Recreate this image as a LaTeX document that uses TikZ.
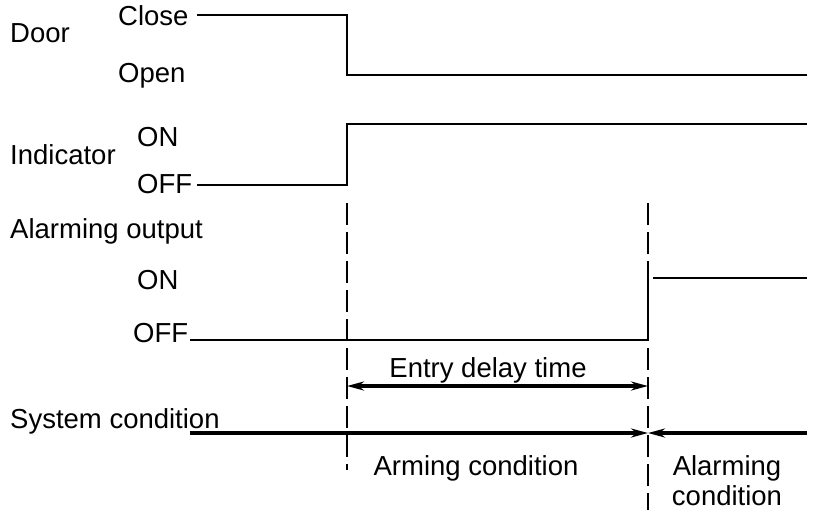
\documentclass[tikz,border=0pt]{standalone}
\usepackage{fontspec}
\setmainfont{Liberation Sans}
\usetikzlibrary{arrows.meta}
\begin{document}
\begin{tikzpicture}[>={Stealth[length=17pt,width=9pt]},x=1pt,y=-1pt,
	sig/.style={line width=2.6pt},
	span/.style={line width=3.2pt},
	tick/.style={line width=1.8pt,dash pattern=on 22pt off 7pt},
	lbl/.style={anchor=base west,inner sep=0pt,font=\fontsize{27.5}{30}\selectfont}]
	\useasboundingbox (0,0) rectangle (832,512);
	% labels on the left
	\node[lbl] (door) at (10,42) {Door};
	\node[lbl] (close) at (118,25) {Close};
	\node[lbl] (open) at (118,82) {Open};
	\node[lbl] (ind) at (10,164) {Indicator};
	\node[lbl] (indon) at (137,146) {ON};
	\node[lbl] (indoff) at (137,193) {OFF};
	\node[lbl] (alarm) at (10,238) {Alarming output};
	\node[lbl] (alon) at (137,289) {ON};
	\node[lbl] (aloff) at (133,342) {OFF};
	\node[lbl] (sys) at (10,428) {System condition};
	% signal points
	\coordinate (d0) at (197,15);
	\coordinate (d1) at (347,15);
	\coordinate (d2) at (347,75);
	\coordinate (d3) at (807,75);
	\coordinate (i0) at (197,185);
	\coordinate (i1) at (347,185);
	\coordinate (i2) at (347,124);
	\coordinate (i3) at (807,124);
	\coordinate (a0) at (190,340);
	\coordinate (a1) at (648,340);
	\coordinate (a2) at (648,278);
	\coordinate (a3) at (807,278);
	% door, indicator, alarming output
	\draw[sig] (d0) -- (d1) -- (d2) -- (d3);
	\draw[sig] (i0) -- (i1) -- (i2) -- (i3);
	\draw[sig] (a0) -- (a1) -- (a2);
	\draw[sig] (a2) ++(5,0) -- (a3);
	% time marks
	\coordinate (t0) at (347,203);
	\coordinate (t1) at (347,470);
	\coordinate (u0) at (648,203);
	\coordinate (u1) at (648,510);
	\draw[tick] (t0) -- (t1);
	\draw[tick] (u0) -- (u1);
	% entry delay
	\coordinate (e0) at (347,386);
	\coordinate (e1) at (648,386);
	\draw[span,<->] (e0) -- (e1);
	\node[lbl,anchor=base] (entry) at (488,377) {Entry delay time};
	% system condition
	\coordinate (s0) at (190,433);
	\coordinate (s1) at (648,433);
	\coordinate (s2) at (807,433);
	\draw[span,->] (s0) -- (s1);
	\draw[span,->] (s2) -- (s1);
	\node[lbl,anchor=base] (arming) at (476,475) {Arming condition};
	\node[lbl,anchor=base] (alcond) at (727,475) {Alarming};
	\node[lbl,anchor=base] (alcond2) at (727,505) {condition};
\end{tikzpicture}
\end{document}
